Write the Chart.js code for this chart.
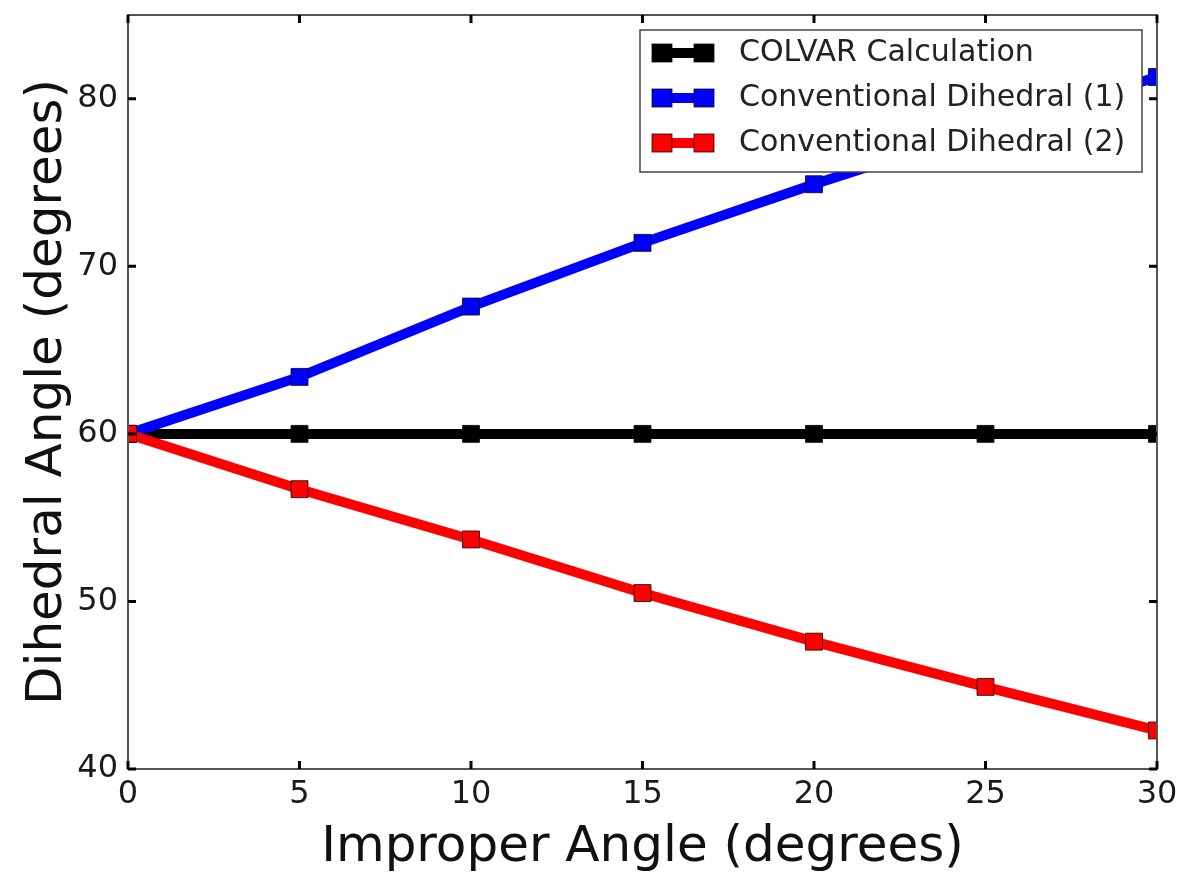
<!DOCTYPE html>
<html>
<head>
<meta charset="utf-8">
<title>Dihedral vs improper angle</title>
<script src="https://cdn.jsdelivr.net/npm/chart.js@4.4.0/dist/chart.umd.min.js"></script>
<style>
  html, body { margin: 0; background: #fff; }
  #wrap { width: 1182px; height: 878px; }
</style>
</head>
<body>
<div id="wrap"><canvas id="chart"></canvas></div>
<script>
const improperAngles = [0, 5, 10, 15, 20, 25, 30];
const colvarValues = [60, 60, 60, 60, 60, 60, 60];
const dihedral1Values = [60, 63.4, 67.6, 71.4, 74.9, 78.2, 81.3];
const dihedral2Values = [60, 56.7, 53.7, 50.5, 47.6, 44.9, 42.3];
const xTicks = [0, 5, 10, 15, 20, 25, 30];
const yTicks = [40, 50, 60, 70, 80];
const seriesNames = ['COLVAR Calculation', 'Conventional Dihedral (1)', 'Conventional Dihedral (2)'];
const seriesColors = ['#000000', '#0000ff', '#ff0000'];

const FONT = "'DejaVu Sans', sans-serif";

function toPoints(values) {
  return improperAngles.map((x, i) => ({ x: x, y: values[i] }));
}

function makeDataset(idx, values) {
  return {
    label: seriesNames[idx],
    data: toPoints(values),
    borderColor: seriesColors[idx],
    backgroundColor: seriesColors[idx],
    borderWidth: 10,
    pointStyle: 'rect',
    pointRadius: 12,
    pointBorderWidth: 1,
    pointBorderColor: 'rgba(0,0,0,0.75)',
    pointBackgroundColor: seriesColors[idx],
    tension: 0,
    clip: 0,
    // later series are painted on top
    order: 3 - idx
  };
}

// frame, inward tick marks and the boxed legend
const framePlugin = {
  id: 'frame',
  afterDraw(chart) {
    const { ctx, chartArea: a, scales } = chart;
    ctx.save();
    ctx.strokeStyle = '#555';
    ctx.lineWidth = 2;
    ctx.strokeRect(a.left, a.top, a.right - a.left, a.bottom - a.top);

    ctx.strokeStyle = '#000';
    ctx.lineWidth = 3;
    const len = 8;
    ctx.beginPath();
    xTicks.forEach(v => {
      const px = scales.x.getPixelForValue(v);
      ctx.moveTo(px, a.bottom); ctx.lineTo(px, a.bottom - len);
      ctx.moveTo(px, a.top); ctx.lineTo(px, a.top + len);
    });
    yTicks.forEach(v => {
      const py = scales.y.getPixelForValue(v);
      ctx.moveTo(a.left, py); ctx.lineTo(a.left + len, py);
      ctx.moveTo(a.right, py); ctx.lineTo(a.right - len, py);
    });
    ctx.stroke();

    // legend box
    const bw = 502, bh = 142;
    const bx = a.right - 15 - bw, by = a.top + 15;
    ctx.fillStyle = '#fff';
    ctx.fillRect(bx, by, bw, bh);
    ctx.strokeStyle = '#444';
    ctx.lineWidth = 1.5;
    ctx.strokeRect(bx, by, bw, bh);

    ctx.font = '30px ' + FONT;
    ctx.textBaseline = 'middle';
    ctx.textAlign = 'left';
    seriesNames.forEach((name, i) => {
      const cy = by + 23 + i * 45;
      const x0 = bx + 22, x1 = bx + 64;
      ctx.strokeStyle = seriesColors[i];
      ctx.lineWidth = 10;
      ctx.beginPath();
      ctx.moveTo(x0, cy); ctx.lineTo(x1, cy);
      ctx.stroke();
      [x0, x1].forEach(mx => {
        ctx.fillStyle = seriesColors[i];
        ctx.fillRect(mx - 10, cy - 9, 20, 18);
        ctx.strokeStyle = 'rgba(0,0,0,0.75)';
        ctx.lineWidth = 1;
        ctx.strokeRect(mx - 10, cy - 9, 20, 18);
      });
      ctx.fillStyle = '#222';
      ctx.fillText(name, bx + 99, cy);
    });
    ctx.restore();
  }
};

new Chart(document.getElementById('chart'), {
  type: 'line',
  data: {
    datasets: [
      makeDataset(0, colvarValues),
      makeDataset(1, dihedral1Values),
      makeDataset(2, dihedral2Values)
    ]
  },
  options: {
    responsive: true,
    maintainAspectRatio: false,
    animation: false,
    layout: { padding: { top: 15, right: 25, left: 0, bottom: 0 } },
    plugins: {
      legend: { display: false },
      tooltip: { enabled: false }
    },
    scales: {
      x: {
        type: 'linear',
        min: 0,
        max: 30,
        grid: { display: false, drawTicks: false },
        border: { display: false },
        afterBuildTicks: s => { s.ticks = xTicks.map(v => ({ value: v })); },
        afterFit: s => {
          s.height = 109;
          s.paddingLeft = 0;
          s.paddingRight = 0;
        },
        ticks: {
          color: '#1a1a1a',
          font: { family: FONT, size: 32 },
          padding: 6,
          maxRotation: 0
        },
        title: {
          display: true,
          text: 'Improper Angle (degrees)',
          color: '#111',
          font: { family: FONT, size: 50 },
          padding: { top: 0, bottom: 0 }
        }
      },
      y: {
        type: 'linear',
        min: 40,
        max: 85,
        grid: { display: false, drawTicks: false },
        border: { display: false },
        afterBuildTicks: s => { s.ticks = yTicks.map(v => ({ value: v })); },
        afterFit: s => {
          s.width = 128;
          s.paddingTop = 0;
          s.paddingBottom = 0;
        },
        ticks: {
          color: '#1a1a1a',
          font: { family: FONT, size: 32 },
          padding: 10
        },
        title: {
          display: true,
          text: 'Dihedral Angle (degrees)',
          color: '#111',
          font: { family: FONT, size: 50 },
          padding: { top: 18, bottom: 0 }
        }
      }
    }
  },
  plugins: [framePlugin]
});
</script>
</body>
</html>
